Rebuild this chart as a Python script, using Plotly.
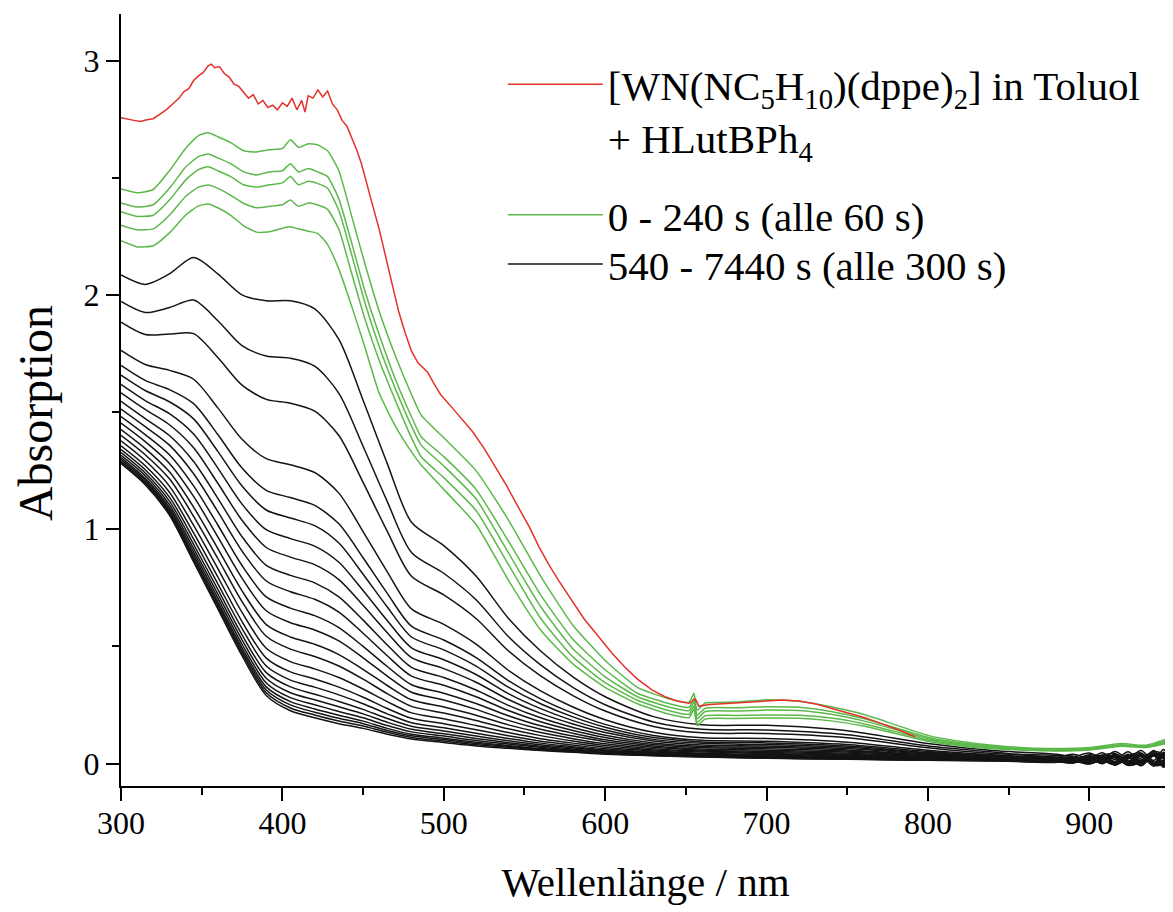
import plotly.graph_objects as go

# ---------------- data ----------------
# red: initial spectrum
red_wl = [300, 304, 308, 312, 316, 320, 324, 328, 332, 336, 339, 342, 345, 348, 351, 354, 356, 358, 361, 364,
          367, 370, 373, 376, 379, 382, 385, 388, 391, 394, 397, 400, 403, 406, 409, 412, 414, 416, 419, 422,
          425, 428, 431, 434, 437, 440, 443, 446, 449, 452, 456, 460, 464, 468, 472, 476, 480, 484, 487, 490,
          494, 498, 505, 512, 518, 525, 532, 539, 546, 553, 559, 565, 571, 579, 587, 596, 604, 612, 620, 629,
          637, 645, 652, 656, 658, 665, 678, 690, 700, 710, 720, 730, 740, 750, 761, 772, 782, 792]
red_abs = [2.756, 2.752, 2.745, 2.740, 2.748, 2.752, 2.770, 2.790, 2.815, 2.840, 2.868, 2.880, 2.915, 2.935, 2.950,
           2.978, 2.985, 2.970, 2.975, 2.945, 2.930, 2.900, 2.890, 2.865, 2.840, 2.855, 2.815, 2.830, 2.800, 2.810,
           2.790, 2.820, 2.805, 2.840, 2.790, 2.830, 2.780, 2.850, 2.840, 2.875, 2.845, 2.870, 2.815, 2.790, 2.745,
           2.720, 2.670, 2.620, 2.560, 2.480, 2.380, 2.280, 2.160, 2.040, 1.930, 1.840, 1.760, 1.710, 1.690, 1.670,
           1.620, 1.575, 1.520, 1.465, 1.415, 1.345, 1.265, 1.185, 1.096, 1.010, 0.925, 0.850, 0.783, 0.698, 0.617,
           0.541, 0.473, 0.413, 0.360, 0.314, 0.285, 0.266, 0.257, 0.275, 0.245, 0.252, 0.258, 0.264, 0.269, 0.271,
           0.267, 0.255, 0.236, 0.218, 0.195, 0.168, 0.143, 0.114]

# green: 0 - 240 s
green_wl = [300, 310, 320, 330, 340, 348, 354, 360, 368, 376, 384, 392, 400, 405, 410, 416, 422, 428, 435, 443,
            451, 460, 470, 480, 486, 500, 520, 540, 560, 580, 600, 620, 640, 652, 655, 657, 662, 680, 700, 720,
            740, 760, 780, 800, 825, 850, 875, 900, 920, 935, 950]
green_0 = [2.452, 2.436, 2.450, 2.530, 2.625, 2.680, 2.692, 2.675, 2.650, 2.615, 2.610, 2.620, 2.625, 2.662, 2.630,
           2.645, 2.640, 2.615, 2.530, 2.334, 2.136, 1.930, 1.740, 1.575, 1.487, 1.390, 1.250, 1.040, 0.800, 0.590,
           0.440, 0.325, 0.275, 0.262, 0.300, 0.228, 0.258, 0.262, 0.272, 0.266, 0.242, 0.210, 0.165, 0.120, 0.090,
           0.072, 0.064, 0.068, 0.085, 0.078, 0.110]
green_60 = [2.392, 2.375, 2.385, 2.455, 2.545, 2.590, 2.601, 2.585, 2.560, 2.525, 2.512, 2.525, 2.530, 2.560, 2.525,
            2.540, 2.525, 2.505, 2.410, 2.220, 2.020, 1.830, 1.640, 1.480, 1.394, 1.310, 1.170, 0.950, 0.720, 0.530,
            0.400, 0.300, 0.255, 0.240, 0.278, 0.206, 0.236, 0.238, 0.242, 0.240, 0.222, 0.192, 0.152, 0.112, 0.084,
            0.068, 0.060, 0.064, 0.080, 0.074, 0.102]
green_120 = [2.355, 2.335, 2.340, 2.405, 2.490, 2.535, 2.547, 2.530, 2.505, 2.470, 2.460, 2.470, 2.478, 2.505, 2.470,
             2.485, 2.475, 2.455, 2.360, 2.170, 1.970, 1.780, 1.600, 1.440, 1.359, 1.270, 1.130, 0.900, 0.670, 0.490,
             0.370, 0.285, 0.240, 0.226, 0.262, 0.192, 0.222, 0.224, 0.228, 0.226, 0.210, 0.182, 0.145, 0.106, 0.080,
             0.065, 0.058, 0.062, 0.078, 0.072, 0.098]
green_180 = [2.298, 2.278, 2.282, 2.340, 2.420, 2.460, 2.469, 2.455, 2.425, 2.390, 2.372, 2.378, 2.385, 2.405, 2.378,
             2.392, 2.384, 2.365, 2.280, 2.090, 1.900, 1.720, 1.550, 1.390, 1.309, 1.220, 1.080, 0.850, 0.620, 0.455,
             0.345, 0.270, 0.225, 0.210, 0.246, 0.176, 0.204, 0.205, 0.207, 0.206, 0.194, 0.170, 0.136, 0.100, 0.076,
             0.062, 0.056, 0.060, 0.076, 0.070, 0.094]
green_240 = [2.231, 2.205, 2.210, 2.265, 2.340, 2.380, 2.388, 2.372, 2.340, 2.295, 2.268, 2.270, 2.285, 2.291, 2.282,
             2.272, 2.262, 2.215, 2.110, 1.950, 1.780, 1.580, 1.440, 1.330, 1.274, 1.170, 1.020, 0.783, 0.570, 0.425,
             0.325, 0.255, 0.210, 0.196, 0.232, 0.162, 0.190, 0.192, 0.194, 0.193, 0.182, 0.160, 0.128, 0.095, 0.072,
             0.060, 0.054, 0.058, 0.074, 0.068, 0.090]
green_series = [green_0, green_60, green_120, green_180, green_240]

# black: 540 - 7440 s (every 300 s)
black_wl = [300, 315, 330, 345, 360, 375, 390, 405, 420, 435, 450, 465, 480, 500, 520, 540, 560, 580, 600, 630,
            660, 700, 750, 800, 840, 880, 890, 900, 908, 916, 924, 932, 940, 946, 950]
black_series = [
    [2.085, 2.045, 2.090, 2.160, 2.090, 2.000, 1.975, 1.975, 1.940, 1.810, 1.550, 1.280, 1.030, 0.930, 0.800, 0.620, 0.480, 0.370, 0.285, 0.200, 0.165, 0.163, 0.140, 0.085, 0.055, 0.039, 0.029, 0.045, 0.023, 0.051, 0.021, 0.055, 0.013, 0.060, 0.015],
    [1.972, 1.925, 1.946, 1.978, 1.890, 1.784, 1.739, 1.730, 1.696, 1.580, 1.354, 1.118, 0.901, 0.812, 0.699, 0.542, 0.421, 0.325, 0.251, 0.177, 0.146, 0.143, 0.123, 0.075, 0.049, 0.027, 0.040, 0.022, 0.046, 0.016, 0.050, 0.012, 0.056, 0.006, 0.062],
    [1.884, 1.831, 1.833, 1.835, 1.733, 1.615, 1.554, 1.538, 1.504, 1.400, 1.200, 0.991, 0.799, 0.720, 0.619, 0.481, 0.374, 0.290, 0.224, 0.158, 0.131, 0.128, 0.110, 0.067, 0.043, 0.035, 0.031, 0.017, 0.035, 0.043, 0.011, 0.023, 0.051, 0.039, 0.001],
    [1.763, 1.703, 1.678, 1.640, 1.518, 1.384, 1.301, 1.275, 1.242, 1.154, 0.990, 0.818, 0.660, 0.594, 0.510, 0.398, 0.310, 0.241, 0.187, 0.133, 0.110, 0.107, 0.091, 0.057, 0.037, 0.022, 0.017, 0.037, 0.029, 0.009, 0.035, 0.045, 0.007, 0.013, 0.051],
    [1.699, 1.635, 1.596, 1.536, 1.404, 1.261, 1.166, 1.135, 1.102, 1.023, 0.878, 0.726, 0.586, 0.527, 0.452, 0.354, 0.276, 0.215, 0.167, 0.120, 0.099, 0.095, 0.081, 0.051, 0.034, 0.027, 0.017, 0.033, 0.011, 0.039, 0.009, 0.043, 0.001, 0.048, 0.003],
    [1.658, 1.592, 1.544, 1.471, 1.332, 1.184, 1.082, 1.048, 1.015, 0.941, 0.808, 0.668, 0.540, 0.485, 0.416, 0.326, 0.255, 0.199, 0.155, 0.111, 0.092, 0.088, 0.075, 0.047, 0.031, 0.017, 0.030, 0.012, 0.036, 0.006, 0.040, 0.002, 0.046, -0.004, 0.052],
    [1.618, 1.549, 1.493, 1.406, 1.261, 1.107, 0.998, 0.960, 0.928, 0.859, 0.738, 0.610, 0.494, 0.443, 0.380, 0.298, 0.234, 0.183, 0.143, 0.103, 0.086, 0.081, 0.069, 0.044, 0.029, 0.027, 0.023, 0.009, 0.027, 0.035, 0.003, 0.015, 0.043, 0.031, -0.007],
    [1.582, 1.511, 1.446, 1.348, 1.196, 1.038, 0.922, 0.881, 0.849, 0.785, 0.675, 0.558, 0.452, 0.405, 0.347, 0.273, 0.214, 0.169, 0.132, 0.096, 0.079, 0.075, 0.064, 0.041, 0.027, 0.016, 0.011, 0.031, 0.023, 0.003, 0.029, 0.039, 0.001, 0.007, 0.045],
    [1.546, 1.472, 1.400, 1.289, 1.132, 0.968, 0.846, 0.803, 0.771, 0.711, 0.612, 0.506, 0.410, 0.367, 0.314, 0.248, 0.195, 0.154, 0.121, 0.088, 0.073, 0.069, 0.058, 0.037, 0.025, 0.022, 0.012, 0.028, 0.006, 0.034, 0.004, 0.038, -0.004, 0.043, -0.002],
    [1.513, 1.438, 1.359, 1.237, 1.075, 0.907, 0.779, 0.733, 0.701, 0.646, 0.556, 0.460, 0.373, 0.334, 0.285, 0.226, 0.178, 0.141, 0.111, 0.081, 0.068, 0.063, 0.053, 0.035, 0.024, 0.012, 0.025, 0.007, 0.031, 0.001, 0.035, -0.003, 0.041, -0.009, 0.047],
    [1.481, 1.404, 1.318, 1.185, 1.018, 0.845, 0.711, 0.663, 0.631, 0.580, 0.500, 0.414, 0.336, 0.300, 0.256, 0.204, 0.161, 0.129, 0.101, 0.075, 0.062, 0.057, 0.049, 0.032, 0.022, 0.022, 0.018, 0.004, 0.022, 0.030, -0.002, 0.010, 0.038, 0.026, -0.012],
    [1.453, 1.374, 1.281, 1.140, 0.967, 0.791, 0.652, 0.601, 0.570, 0.523, 0.451, 0.373, 0.304, 0.271, 0.231, 0.184, 0.146, 0.117, 0.093, 0.069, 0.057, 0.052, 0.044, 0.029, 0.020, 0.012, 0.007, 0.027, 0.019, -0.001, 0.025, 0.035, -0.003, 0.003, 0.041],
    [1.425, 1.344, 1.245, 1.094, 0.917, 0.737, 0.593, 0.540, 0.509, 0.465, 0.402, 0.333, 0.272, 0.241, 0.206, 0.165, 0.132, 0.106, 0.084, 0.063, 0.053, 0.047, 0.040, 0.027, 0.019, 0.019, 0.009, 0.025, 0.003, 0.031, 0.001, 0.035, -0.007, 0.040, -0.005],
    [1.401, 1.318, 1.215, 1.055, 0.875, 0.691, 0.543, 0.488, 0.457, 0.416, 0.360, 0.298, 0.244, 0.216, 0.184, 0.148, 0.119, 0.096, 0.077, 0.058, 0.049, 0.043, 0.036, 0.025, 0.018, 0.009, 0.022, 0.004, 0.028, -0.002, 0.032, -0.006, 0.038, -0.012, 0.044],
    [1.377, 1.293, 1.184, 1.016, 0.832, 0.645, 0.492, 0.435, 0.404, 0.367, 0.318, 0.264, 0.216, 0.191, 0.162, 0.132, 0.106, 0.087, 0.069, 0.053, 0.044, 0.039, 0.033, 0.023, 0.017, 0.019, 0.015, 0.001, 0.019, 0.027, -0.005, 0.007, 0.035, 0.023, -0.015],
    [1.356, 1.271, 1.158, 0.984, 0.796, 0.606, 0.450, 0.391, 0.361, 0.326, 0.283, 0.235, 0.193, 0.170, 0.144, 0.118, 0.095, 0.079, 0.063, 0.049, 0.041, 0.035, 0.030, 0.021, 0.016, 0.009, 0.004, 0.024, 0.016, -0.004, 0.022, 0.032, -0.006, 0.000, 0.038],
    [1.340, 1.254, 1.137, 0.958, 0.767, 0.576, 0.416, 0.356, 0.326, 0.293, 0.255, 0.212, 0.174, 0.153, 0.129, 0.107, 0.087, 0.072, 0.058, 0.046, 0.038, 0.033, 0.027, 0.019, 0.015, 0.016, 0.006, 0.022, 0.000, 0.028, -0.002, 0.032, -0.010, 0.037, -0.008],
    [1.327, 1.240, 1.120, 0.935, 0.743, 0.549, 0.388, 0.327, 0.296, 0.265, 0.231, 0.192, 0.159, 0.139, 0.117, 0.097, 0.080, 0.067, 0.054, 0.043, 0.036, 0.030, 0.025, 0.018, 0.014, 0.006, 0.019, 0.001, 0.025, -0.005, 0.029, -0.009, 0.035, -0.015, 0.041],
    [1.315, 1.228, 1.105, 0.917, 0.723, 0.528, 0.364, 0.302, 0.272, 0.242, 0.212, 0.176, 0.146, 0.127, 0.107, 0.089, 0.074, 0.062, 0.051, 0.040, 0.034, 0.028, 0.023, 0.017, 0.014, 0.017, 0.013, -0.001, 0.017, 0.025, -0.007, 0.005, 0.033, 0.021, -0.017],
    [1.306, 1.217, 1.093, 0.902, 0.706, 0.509, 0.344, 0.281, 0.251, 0.222, 0.195, 0.162, 0.135, 0.117, 0.098, 0.083, 0.069, 0.058, 0.048, 0.038, 0.032, 0.027, 0.022, 0.016, 0.013, 0.008, 0.003, 0.023, 0.015, -0.005, 0.021, 0.031, -0.007, -0.001, 0.037],
    [1.298, 1.209, 1.083, 0.889, 0.691, 0.494, 0.327, 0.264, 0.233, 0.206, 0.181, 0.150, 0.125, 0.108, 0.091, 0.077, 0.064, 0.055, 0.045, 0.037, 0.031, 0.025, 0.021, 0.016, 0.013, 0.015, 0.005, 0.021, -0.001, 0.027, -0.003, 0.031, -0.011, 0.036, -0.009],
    [1.291, 1.202, 1.074, 0.878, 0.680, 0.482, 0.314, 0.250, 0.219, 0.193, 0.170, 0.141, 0.118, 0.102, 0.085, 0.073, 0.061, 0.053, 0.043, 0.035, 0.030, 0.024, 0.020, 0.015, 0.012, 0.005, 0.018, 0.000, 0.024, -0.006, 0.028, -0.010, 0.034, -0.016, 0.040],
    [1.286, 1.196, 1.067, 0.869, 0.670, 0.471, 0.302, 0.237, 0.207, 0.181, 0.160, 0.133, 0.111, 0.096, 0.080, 0.069, 0.058, 0.050, 0.042, 0.034, 0.029, 0.023, 0.019, 0.014, 0.012, 0.016, 0.012, -0.002, 0.016, 0.024, -0.008, 0.004, 0.032, 0.020, -0.018],
    [1.280, 1.190, 1.060, 0.860, 0.660, 0.460, 0.290, 0.225, 0.195, 0.170, 0.150, 0.125, 0.105, 0.090, 0.075, 0.065, 0.055, 0.048, 0.040, 0.033, 0.028, 0.022, 0.018, 0.014, 0.012, 0.007, 0.002, 0.022, 0.014, -0.006, 0.020, 0.030, -0.008, -0.002, 0.036],
]

legend_names = [
    "[WN(NC<sub>5</sub>H<sub>10</sub>)(dppe)<sub>2</sub>] in Toluol<br>+ HLutBPh<sub>4</sub>",
    "0 - 240 s (alle 60 s)",
    "540 - 7440 s (alle 300 s)",
]
x_ticks = [300, 400, 500, 600, 700, 800, 900]
y_ticks = [0, 1, 2, 3]

RED = "#e2322b"
GREEN = "#5cb84a"
BLACK = "#141414"
FONT = "Liberation Serif, Times New Roman, serif"

fig = go.Figure()

for i, ys in enumerate(black_series):
    fig.add_trace(go.Scatter(
        x=black_wl, y=ys, mode="lines",
        line=dict(color=BLACK, width=1.5, shape="spline", smoothing=0.8),
        name=legend_names[2], legendgroup="black", showlegend=(i == 0), legend="legend3",
        hoverinfo="skip"))

for i, ys in enumerate(green_series):
    fig.add_trace(go.Scatter(
        x=green_wl, y=ys, mode="lines",
        line=dict(color=GREEN, width=1.5, shape="spline", smoothing=0.5),
        name=legend_names[1], legendgroup="green", showlegend=(i == 0), legend="legend2",
        hoverinfo="skip"))

fig.add_trace(go.Scatter(
    x=red_wl, y=red_abs, mode="lines",
    line=dict(color=RED, width=1.5),
    name=legend_names[0], legendgroup="red", showlegend=True, legend="legend",
    hoverinfo="skip"))

legend_common = dict(
    xanchor="left", yanchor="top",
    bgcolor="rgba(0,0,0,0)", borderwidth=0,
    font=dict(family=FONT, size=41, color="black"),
    itemwidth=95, valign="top", tracegroupgap=0,
    itemclick=False, itemdoubleclick=False,
)

fig.update_layout(
    width=1165, height=904,
    margin=dict(l=113, r=3, t=6, b=126),
    paper_bgcolor="white", plot_bgcolor="white",
    font=dict(family=FONT, color="black", size=32),
    showlegend=True,
    legend=dict(x=0.364, y=0.952, **legend_common),
    legend2=dict(x=0.364, y=0.783, **legend_common),
    legend3=dict(x=0.364, y=0.719, **legend_common),
    annotations=[dict(
        text="Absorption", xref="paper", yref="paper", x=-0.082, y=0.483,
        xanchor="center", yanchor="middle", textangle=-90, showarrow=False,
        font=dict(family=FONT, size=48, color="black"),
    )],
)

fig.update_xaxes(
    range=[300, 950], tickvals=x_ticks, ticktext=[str(v) for v in x_ticks],
    showline=True, linecolor="black", linewidth=2, mirror=False,
    ticks="outside", ticklen=13, tickwidth=2, tickcolor="black",
    minor=dict(dtick=50, tick0=300, ticks="outside", ticklen=7, tickwidth=2, tickcolor="black"),
    showgrid=False, zeroline=False, ticklabelstandoff=-5,
    tickfont=dict(family=FONT, size=32),
    title=dict(text="Wellenlänge / nm", font=dict(family=FONT, size=41), standoff=27),
)
fig.update_yaxes(
    range=[-0.096, 3.199], tickvals=y_ticks, ticktext=[str(v) for v in y_ticks],
    showline=True, linecolor="black", linewidth=2, mirror=False,
    ticks="outside", ticklen=13, tickwidth=2, tickcolor="black",
    minor=dict(dtick=0.5, tick0=0, ticks="outside", ticklen=7, tickwidth=2, tickcolor="black"),
    showgrid=False, zeroline=False,
    tickfont=dict(family=FONT, size=32),
)

fig.write_html("out.html")
